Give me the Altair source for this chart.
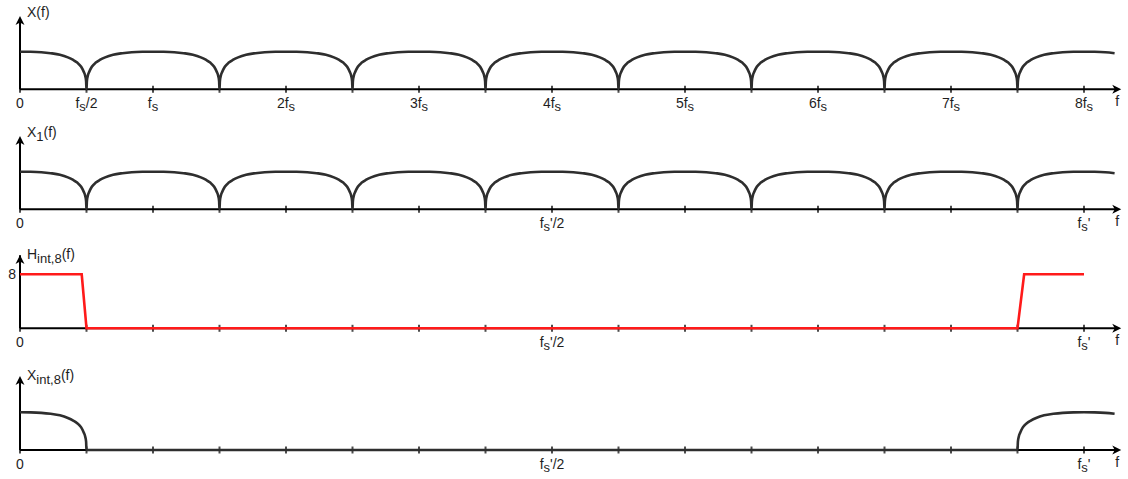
import re
import altair as alt
import pandas as pd

# ---------------------------------------------------------------- data
# One spectral lobe, sampled from its zero crossing (distance in units of fs)
# up to its centre; level is relative to the flat top of the lobe.
LOBE_OFFSET = [0.0, 0.003, 0.01, 0.02, 0.04, 0.07, 0.10, 0.14, 0.20, 0.27, 0.34, 0.42, 0.50]
LOBE_LEVEL = [0.0, 0.22, 0.36, 0.46, 0.60, 0.71, 0.78, 0.85, 0.92, 0.96, 0.985, 0.997, 1.0]

# lobe centres (multiples of fs) present in each spectrum
X_CENTERS = [0, 1, 2, 3, 4, 5, 6, 7, 8]
X1_CENTERS = [0, 1, 2, 3, 4, 5, 6, 7, 8]
XINT_CENTERS = [0, 8]
F_END = 8.23  # last drawn frequency

# interpolation filter H_int,8(f)
H_F = [0.0, 0.464, 0.5, 7.5, 7.55, 8.0]
H_LEVEL = [8, 8, 0, 0, 8, 8]

# axis ticks (every fs/2) and labels
TICK_F = [0.0, 0.5, 1.0, 1.5, 2.0, 2.5, 3.0, 3.5, 4.0, 4.5, 5.0, 5.5, 6.0, 6.5, 7.0, 7.5, 8.0]
TOP_LABEL_F = [0, 0.5, 1, 2, 3, 4, 5, 6, 7, 8]
TOP_LABEL_TXT = ["0", "f_{s}/2", "f_{s}", "2f_{s}", "3f_{s}", "4f_{s}", "5f_{s}", "6f_{s}", "7f_{s}", "8f_{s}"]
NEW_LABEL_F = [0, 4, 8]
NEW_LABEL_TXT = ["0", "f_{s}'/2", "f_{s}'"]
TITLES = ["X(f)", "X_{1}(f)", "H_{int,8} (f)", "X_{int,8}(f)"]
H_MARK = 8

# ---------------------------------------------------------------- layout
W, PANEL_H = 1128, 120
ORIGIN_PX, FS_PX = 20, 133
X_LO, X_HI = -ORIGIN_PX / FS_PX, (W - ORIGIN_PX) / FS_PX
X_ARROW = 8.28
FONT = "Liberation Sans"
INK = "#1e1e1e"
CURVE = "#2e2e2e"
RED = "#ff1a1a"

# Arial/Liberation advance widths (per 1000 em)
ADV = {"0": 556, "1": 556, "2": 556, "3": 556, "4": 556, "5": 556, "6": 556,
       "7": 556, "8": 556, "f": 278, "s": 500, "/": 278, "'": 191, "X": 667,
       "H": 722, "(": 333, ")": 333, "i": 222, "n": 556, "t": 278, ",": 278, " ": 278}

UP_ARROW = "M0,0L-0.5,1L0,0.72L0.5,1Z"
RIGHT_ARROW = "M0,0L-1,-0.5L-0.72,0L-1,0.5Z"


def spectrum(centers, f_end):
    pts = {}
    for c in centers:
        for u, v in zip(LOBE_OFFSET, LOBE_LEVEL):
            for f in (c - 0.5 + u, c + 0.5 - u):
                if 0 <= f <= f_end + 1e-9:
                    pts[round(f, 6)] = v
    fs = sorted(pts)
    return pd.DataFrame({"f": fs, "v": [pts[f] for f in fs]})


def text_width(s, size):
    return sum(ADV.get(ch, 556) for ch in s) * size / 1000.0


def rich_text(txt, xv, yv, xsc, ysc, center, dx0, dy0, size, sub_size, drop):
    """Text with _{...} subscripts, laid out as consecutive text marks."""
    parts = re.split(r"_\{([^}]*)\}", txt)
    pieces = [(p, i % 2 == 1) for i, p in enumerate(parts) if p]
    widths = [text_width(p, sub_size if sub else size) for p, sub in pieces]
    pos = dx0 - (sum(widths) / 2 if center else 0)
    out = []
    for (p, sub), w in zip(pieces, widths):
        out.append(
            alt.Chart(alt.Data(values=[{}]))
            .mark_text(text=p, align="left", baseline="alphabetic", font=FONT,
                       fontSize=sub_size if sub else size, color=INK,
                       dx=pos, dy=dy0 + (drop if sub else 0))
            .encode(x=alt.XDatum(xv, type="quantitative", scale=xsc, axis=None),
                    y=alt.YDatum(yv, type="quantitative", scale=ysc, axis=None))
        )
        pos += w
    return out


def panel(curve_df, color, label_f, label_txt, title, baseline_px, unit_px, tip_px,
          title_dy, extra=None):
    xsc = alt.Scale(domain=[X_LO, X_HI], nice=False, zero=False)
    ysc = alt.Scale(domain=[-(PANEL_H - baseline_px) / unit_px, baseline_px / unit_px],
                    nice=False, zero=False)
    tip = (baseline_px - tip_px) / unit_px
    one = alt.Data(values=[{}])

    def xd(v):
        return alt.XDatum(v, type="quantitative", scale=xsc, axis=None)

    def yd(v):
        return alt.YDatum(v, type="quantitative", scale=ysc, axis=None)

    layers = [
        alt.Chart(one).mark_rule(color="black", strokeWidth=2)
        .encode(x=xd(0), x2=alt.X2Datum(X_ARROW - 0.03), y=yd(0)),
        alt.Chart(one).mark_rule(color="black", strokeWidth=2)
        .encode(x=xd(0), y=yd(0), y2=alt.Y2Datum(tip - 0.05)),
        alt.Chart(pd.DataFrame({"f": TICK_F})).mark_tick(
            orient="vertical", size=7, thickness=2, color="black")
        .encode(x=alt.X("f:Q", scale=xsc, axis=None), y=yd(0)),
        alt.Chart(curve_df).mark_line(color=color, strokeWidth=2.6,
                                      interpolate="monotone" if color == CURVE else "linear")
        .encode(x=alt.X("f:Q", scale=xsc, axis=None),
                y=alt.Y("v:Q", scale=ysc, axis=None)),
        alt.Chart(one).mark_point(shape=UP_ARROW, filled=True, size=324, opacity=1,
                                  color="black", strokeWidth=0)
        .encode(x=xd(0), y=yd(tip)),
        alt.Chart(one).mark_point(shape=RIGHT_ARROW, filled=True, size=324, opacity=1,
                                  color="black", strokeWidth=0)
        .encode(x=xd(X_ARROW), y=yd(0)),
        alt.Chart(one).mark_text(text="f", align="center", baseline="alphabetic",
                                 font=FONT, fontSize=14, color=INK, dx=-4, dy=17)
        .encode(x=xd(X_ARROW), y=yd(0)),
    ]
    for f, t in zip(label_f, label_txt):
        layers += rich_text(t, f, 0, xsc, ysc, True, 0, 19, 14, 13, 3)
    layers += rich_text(title, 0, tip, xsc, ysc, False, 7, title_dy, 14, 13, 4)
    if extra is not None:
        layers += extra(xsc, ysc, xd, yd)
    return alt.layer(*layers).properties(width=W, height=PANEL_H)


def h_extra(xsc, ysc, xd, yd):
    return [
        alt.Chart(alt.Data(values=[{}])).mark_text(
            text=str(H_MARK), align="right", baseline="middle", font=FONT,
            fontSize=14, color=INK, dx=-4, dy=1)
        .encode(x=xd(0), y=yd(H_MARK))
    ]


h_df = pd.DataFrame({"f": H_F, "v": H_LEVEL})

panels = [
    panel(spectrum(X_CENTERS, F_END), CURVE, TOP_LABEL_F, TOP_LABEL_TXT, TITLES[0],
          89.3, 37.6, 16, 1),
    panel(spectrum(X1_CENTERS, F_END), CURVE, NEW_LABEL_F, NEW_LABEL_TXT, TITLES[1],
          89.3, 37.6, 16, 1),
    panel(h_df, RED, NEW_LABEL_F, NEW_LABEL_TXT, TITLES[2], 88.3, 6.75, 15, 4,
          extra=h_extra),
    panel(spectrum(XINT_CENTERS, F_END), CURVE, NEW_LABEL_F, NEW_LABEL_TXT, TITLES[3],
          90.0, 37.7, 16, 4),
]

chart = (
    alt.VConcatChart(vconcat=panels, spacing=0, bounds="flush")
    .properties(padding=0, background="white")
    .configure_view(stroke=None)
)

chart.save("out.html", embed_options={"renderer": "svg", "actions": False})
